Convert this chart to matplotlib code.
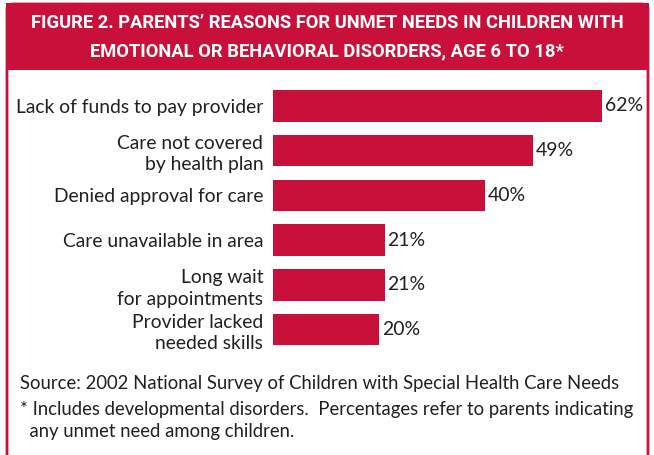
import matplotlib
matplotlib.use("Agg")
import matplotlib.pyplot as plt
from matplotlib.patches import FancyBboxPatch, Rectangle

categories = ["Lack of funds to pay provider", "Care not covered\nby health plan",
              "Denied approval for care", "Care unavailable in area",
              "Long wait\nfor appointments", "Provider lacked\nneeded skills"]
values = [62, 49, 40, 21, 21, 20]
title_lines = ["FIGURE 2. PARENTS\u2019 REASONS FOR UNMET NEEDS IN CHILDREN WITH",
               "EMOTIONAL OR BEHAVIORAL DISORDERS, AGE 6 TO 18*"]
source = "Source: 2002 National Survey of Children with Special Health Care Needs"
note1 = "* Includes developmental disorders.  Percentages refer to parents indicating"
note2 = "  any unmet need among children."

RED = "#C8103A"
INK = "#231f20"
W, H = 654, 455
tfont = "Roboto"
lfont = "Lato"

fig = plt.figure(figsize=(W/100, H/100), dpi=100)
fig.patch.set_facecolor("white")
renderer = fig.canvas.get_renderer()

def fx(x): return x / W
def fy(y): return 1 - y / H

def fit(t, target):
    bb = t.get_window_extent(renderer)
    t.set_fontsize(t.get_fontsize() * target / bb.width)

# frame
frame = FancyBboxPatch((fx(7), fy(470)), fx(641), (470-4)/H,
                       boxstyle="round,pad=0,rounding_size=0.01",
                       transform=fig.transFigure, facecolor="white",
                       edgecolor=RED, linewidth=2, zorder=0)
fig.patches.append(frame)
fig.patches.append(Rectangle((fx(6), fy(70)), fx(643), (70-3)/H,
                             transform=fig.transFigure, facecolor=RED,
                             edgecolor="none", zorder=1))
t1 = fig.text(0.5, fy(23), title_lines[0], ha="center", va="center", color="white",
              fontsize=13, fontweight="bold", family=tfont, zorder=2)
t2 = fig.text(0.5, fy(51), title_lines[1], ha="center", va="center", color="white",
              fontsize=13, fontweight="bold", family=tfont, zorder=2)
fit(t1, 590)
t2.set_fontsize(t1.get_fontsize())

# bars
left_px, right_px = 273, 650
top_px, bot_px = 83.5, 352
ax = fig.add_axes([fx(left_px), fy(bot_px), (right_px-left_px)/W, (bot_px-top_px)/H],
                  zorder=5)
ppu = 5.31
ax.set_xlim(0, (right_px-left_px)/ppu)
n = len(values)
ax.set_ylim(n-0.5, -0.5)
ypos = list(range(n))
ax.barh(ypos, values, height=0.70, color=RED, edgecolor="none")
vt = []
for y, v in zip(ypos, values):
    vt.append(ax.text(v + 0.5, y, f"{v}%", va="center", ha="left", fontsize=12,
                      family=lfont, color=INK))
fit(vt[0], 38)
for t in vt[1:]:
    t.set_fontsize(vt[0].get_fontsize())
ax.set_yticks(ypos)
probe = fig.text(0, 0, categories[0], fontsize=13, family=lfont)
fit(probe, 247)
lsize = probe.get_fontsize()
probe.remove()
ax.set_yticklabels(categories, fontsize=lsize, family=lfont, color=INK,
                   linespacing=1.3)
ax.tick_params(axis="y", length=0, pad=7)
ax.set_xticks([])
for s in ax.spines.values():
    s.set_visible(False)
ax.patch.set_alpha(0)

s1 = fig.text(fx(20), fy(384), source, ha="left", va="center", fontsize=12,
              family=lfont, color=INK, zorder=3)
fit(s1, 598)
fs = s1.get_fontsize()
fig.text(fx(20), fy(410), note1, ha="left", va="center",
         fontsize=fs, family=lfont, color=INK, zorder=3)
fig.text(fx(20), fy(432), note2, ha="left", va="center",
         fontsize=fs, family=lfont, color=INK, zorder=3)

fig.savefig("out.png", dpi=100)
